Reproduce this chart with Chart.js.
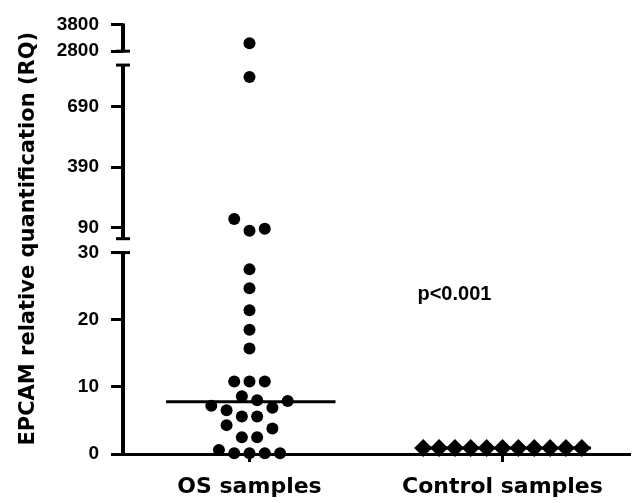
<!DOCTYPE html>
<html lang="en">
  <head>
    <meta charset="UTF-8" />
    <title>EPCAM RQ</title>
    <style>
      body { margin: 0; background: #fff; }
    </style>
  </head>
  <body>
    <canvas id="myChart" width="638" height="503"></canvas>
    <script src="https://cdn.jsdelivr.net/npm/chart.js@4.4.1/dist/chart.umd.min.js"></script>
    <script>
      // categories
      const categories = ["OS samples", "Control samples"];

      // OS samples: RQ value and jitter column (half-slots left/right of centre)
      const osValues = [3096, 837, 134, 75, 85,
        27.5, 24.7, 21.4, 18.5, 15.7,
        10.8, 10.8, 10.8,
        8.6, 8.0, 7.9,
        7.2, 6.9, 6.5,
        5.6, 5.6,
        4.3, 3.8,
        2.5, 2.5,
        0.6,
        0.1, 0.1, 0.1, 0.1];
      const osColumn = [0, 0, -2, 0, 2,
        0, 0, 0, 0, 0,
        -2, 0, 2,
        -1, 1, 5,
        -5, 3, -3,
        -1, 1,
        -3, 3,
        -1, 1,
        -4,
        -2, 0, 2, 4];

      // control samples
      const controlValues = [0.9, 0.9, 0.9, 0.9, 0.9, 0.9, 0.9, 0.9, 0.9, 0.9, 0.9];
      const controlColumn = [-5, -4, -3, -2, -1, 0, 1, 2, 3, 4, 5];

      const medians = [7.8, 0.9];
      const pText = "p<0.001";

      // broken axis tick labels
      const yTicks = [0, 10, 20, 30, 90, 390, 690, 2800, 3800];

      // piecewise mapping of the broken y axis
      function toDisp(v) {
        if (v <= 30) return v * 203 / 30;
        if (v < 2000) return 228 + (v - 90) * 122 / 600;
        return 406 + (v - 2800) * 27 / 1000;
      }
      // axis segments (display units) and the ends that get a break cap
      const segments = [[0, 203], [217, 392], [406, 434]];
      const caps = [203, 217, 392, 406];

      const slot = 0.0302;
      const ctrlSlot = 0.0627;

      const osPoints = osValues.map((v, i) => ({ x: 1 + osColumn[i] * slot, y: toDisp(v) }));
      const ctrlPoints = controlValues.map((v, i) => ({ x: 2 + controlColumn[i] * ctrlSlot, y: toDisp(v) }));

      const brokenAxis = {
        id: "brokenAxis",
        beforeDatasetsDraw(chart) {
          const c = chart.ctx;
          const ys = chart.scales.y;
          const x0 = chart.chartArea.left;
          c.save();
          c.strokeStyle = "#000";
          c.lineWidth = 4;
          segments.forEach((s) => {
            c.beginPath();
            c.moveTo(x0, ys.getPixelForValue(s[0]) + 1);
            c.lineTo(x0, ys.getPixelForValue(s[1]));
            c.stroke();
          });
          c.lineWidth = 3;
          caps.forEach((d) => {
            const y = ys.getPixelForValue(d);
            c.beginPath();
            c.moveTo(x0 - 7, y);
            c.lineTo(x0 + 7, y);
            c.stroke();
          });
          c.restore();
        },
        afterDatasetsDraw(chart) {
          const c = chart.ctx;
          c.save();
          c.fillStyle = "#000";
          c.font = "bold 20px 'Liberation Sans', Arial, sans-serif";
          c.textAlign = "center";
          c.textBaseline = "middle";
          c.fillText(pText, chart.scales.x.getPixelForValue(1.81), chart.scales.y.getPixelForValue(toDisp(23.8)));
          c.restore();
        },
      };

      const ctx = document.getElementById("myChart").getContext("2d");
      const myChart = new Chart(ctx, {
        type: "scatter",
        data: {
          datasets: [
            {
              label: categories[0],
              data: osPoints,
              pointStyle: "circle",
              pointRadius: 6,
              backgroundColor: "#000",
              borderColor: "#000",
              borderWidth: 0,
              clip: false,
            },
            {
              label: categories[1],
              data: ctrlPoints,
              pointStyle: "rectRot",
              pointRadius: 9,
              backgroundColor: "#000",
              borderColor: "#000",
              borderWidth: 0,
              clip: false,
            },
            {
              type: "line",
              label: "median OS",
              data: [{ x: 0.67, y: toDisp(medians[0]) }, { x: 1.34, y: toDisp(medians[0]) }],
              borderColor: "#000",
              borderWidth: 3,
              pointRadius: 0,
              clip: false,
            },
            {
              type: "line",
              label: "median control",
              data: [{ x: 1.66, y: toDisp(medians[1]) }, { x: 2.35, y: toDisp(medians[1]) }],
              borderColor: "#000",
              borderWidth: 3,
              pointRadius: 0,
              clip: false,
            },
          ],
        },
        options: {
          responsive: false,
          animation: false,
          layout: { padding: { top: 20, right: 3, left: 0, bottom: 0 } },
          plugins: {
            legend: { display: false },
            tooltip: { enabled: false },
          },
          scales: {
            x: {
              type: "linear",
              min: 0.5,
              max: 2.5,
              afterBuildTicks: (scale) => {
                scale.ticks = [{ value: 1 }, { value: 2 }];
              },
              afterFit: (scale) => {
                scale.height = 49;
              },
              ticks: {
                color: "#000",
                padding: 12,
                font: { family: "'DejaVu Sans', Verdana, sans-serif", size: 22, weight: "bold" },
                callback: (v, i) => categories[i],
              },
              grid: { drawOnChartArea: false, tickLength: 8, lineWidth: 3, color: "#000" },
              border: { display: true, width: 3, color: "#000" },
            },
            y: {
              type: "linear",
              min: 0,
              max: 434,
              afterBuildTicks: (scale) => {
                scale.ticks = yTicks.map((v) => ({ value: toDisp(v) }));
              },
              afterFit: (scale) => {
                scale.width = 123;
              },
              ticks: {
                color: "#000",
                padding: 12,
                font: { family: "'Liberation Sans', Arial, sans-serif", size: 19, weight: "bold" },
                callback: (v, i) => String(yTicks[i]),
              },
              grid: { drawOnChartArea: false, tickLength: 12, lineWidth: 3, color: "#000" },
              border: { display: false },
              title: {
                display: true,
                text: "EPCAM relative quantification (RQ)",
                color: "#000",
                padding: { top: 16, bottom: 0 },
                font: { family: "'DejaVu Sans', Verdana, sans-serif", size: 21, weight: "bold" },
              },
            },
          },
        },
        plugins: [brokenAxis],
      });
    </script>
  </body>
</html>
